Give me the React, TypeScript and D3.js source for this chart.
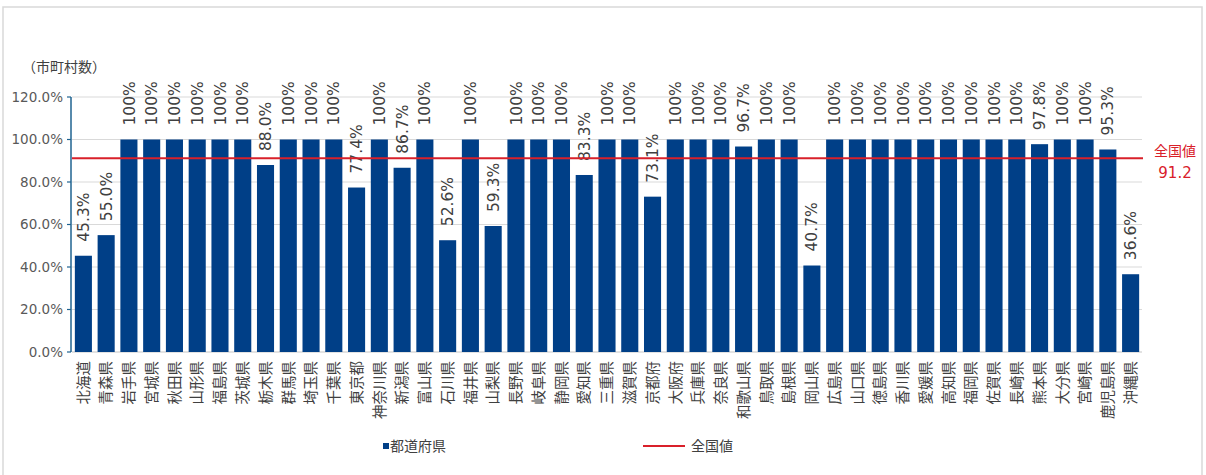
import React from "react";
import * as d3 from "d3";

const categories = ["北海道","青森県","岩手県","宮城県","秋田県","山形県","福島県","茨城県","栃木県","群馬県","埼玉県","千葉県","東京都","神奈川県","新潟県","富山県","石川県","福井県","山梨県","長野県","岐阜県","静岡県","愛知県","三重県","滋賀県","京都府","大阪府","兵庫県","奈良県","和歌山県","鳥取県","島根県","岡山県","広島県","山口県","徳島県","香川県","愛媛県","高知県","福岡県","佐賀県","長崎県","熊本県","大分県","宮崎県","鹿児島県","沖縄県"];
const values = [45.3,55.0,100,100,100,100,100,100,88.0,100,100,100,77.4,100,86.7,100,52.6,100,59.3,100,100,100,83.3,100,100,73.1,100,100,100,96.7,100,100,40.7,100,100,100,100,100,100,100,100,100,97.8,100,100,95.3,36.6];
const yTicks = [0,20,40,60,80,100,120];
const nationalValue = 91.2;

const W = 1206, H = 475;
const FONT = "'Noto Sans CJK JP', 'Noto Sans', sans-serif";
const NUMFONT = "'DejaVu Sans', 'Noto Sans CJK JP', sans-serif";

export default function App() {
  const x = d3.scaleBand<string>().domain(categories).range([72, 1142]).paddingInner(0.25).paddingOuter(0.125);
  const y = d3.scaleLinear().domain([0, 120]).range([352, 97]);
  const fmt = (v: number) => (v === 100 ? "100%" : v.toFixed(1) + "%");
  const barColor = "#003F87";
  const red = "#D9202A";
  return (
    <svg width={W} height={H} style={{ position: "absolute", left: 0, top: 0, fontFamily: FONT }}>
      <rect x={0} y={0} width={W} height={H} fill="#fff" />
      <rect x={3} y={7} width={1199} height={470} fill="none" stroke="#d9d9d9" strokeWidth={1.5} />
      <text x={22} y={72} fontSize={14} fill="#404040">（市町村数）</text>
      {yTicks.map((t) => (
        <g key={t}>
          {t > 0 && <line x1={72} x2={1142} y1={y(t)} y2={y(t)} stroke="#d9d9d9" strokeWidth={1} />}
          <line x1={67} x2={71} y1={y(t)} y2={y(t)} stroke="#1F6391" strokeWidth={1.2} />
          <text x={63} y={y(t)} dy="0.35em" textAnchor="end" fontSize={13.5} fontFamily={NUMFONT} fill="#595959">{t.toFixed(1)}%</text>
        </g>
      ))}
      <line x1={72} x2={1142} y1={y(0)} y2={y(0)} stroke="#d9d9d9" strokeWidth={1.5} />
      {categories.map((c, i) => {
        const bx = x(c)!;
        const v = values[i];
        const cx = bx + x.bandwidth() / 2;
        return (
          <g key={c}>
            <rect x={bx} y={y(v)} width={x.bandwidth()} height={y(0) - y(v)} fill={barColor} />
            <text transform={`translate(${cx},${y(v) - 14}) rotate(-90)`} dy="0.36em" textAnchor="start" fontSize={15.5} fontFamily={NUMFONT} fill="#404040">{fmt(v)}</text>
            <text transform={`translate(${cx},${361}) rotate(-90)`} dy="0.36em" textAnchor="end" fontSize={14.5} fill="#404040">{c}</text>
          </g>
        );
      })}
      <line x1={71} x2={71} y1={y(120)} y2={y(0)} stroke="#1F6391" strokeWidth={1.5} />
      <line x1={72} x2={1143} y1={y(nationalValue)} y2={y(nationalValue)} stroke={red} strokeWidth={2} />
      <text x={1175} y={y(nationalValue) - 2} textAnchor="middle" fontSize={14} fill={red}>全国値</text>
      <text x={1175} y={y(nationalValue) + 20} textAnchor="middle" fontSize={15} fontFamily={NUMFONT} fill={red}>{nationalValue}</text>
      <rect x={383} y={443} width={6} height={6} fill={barColor} />
      <text x={390} y={446} dy="0.35em" fontSize={14} fill="#404040">都道府県</text>
      <line x1={643} x2={685} y1={446} y2={446} stroke={red} strokeWidth={2} />
      <text x={691} y={446} dy="0.35em" fontSize={14} fill="#404040">全国値</text>
    </svg>
  );
}
